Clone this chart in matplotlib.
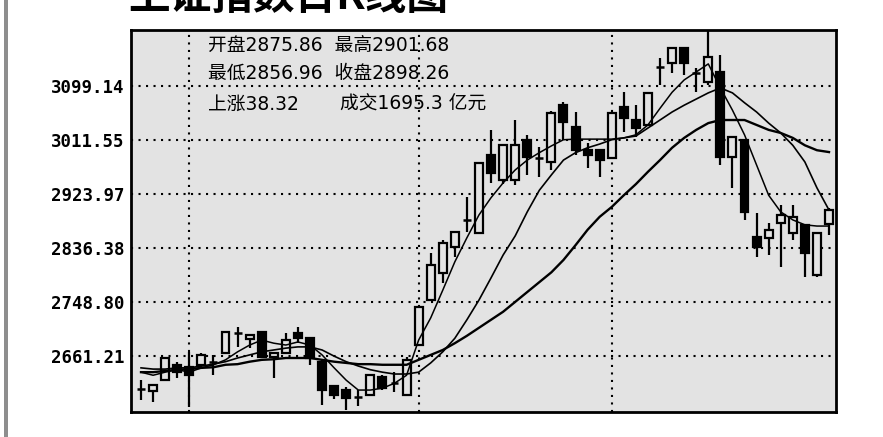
import matplotlib
matplotlib.use('Agg')
import matplotlib.pyplot as plt
from matplotlib.patches import Rectangle

plt.rcParams['font.family'] = ['Noto Sans CJK SC', 'DejaVu Sans']

# daily candles: open, high, low, close
opens = [2608, 2605, 2622, 2646, 2643, 2647, 2650, 2666, 2698, 2688,
         2700, 2660, 2666, 2698, 2690, 2651, 2612, 2606, 2595, 2598,
         2627, 2616, 2598, 2679, 2752, 2796, 2838, 2881, 2861, 2987,
         2947, 2947, 3011, 2983, 2976, 3068, 3033, 2995, 2995, 2982,
         3065, 3044, 3036, 3129, 3137, 3161, 3119, 3106, 3122, 2984,
         3011, 2854, 2853, 2877, 2861, 2874, 2792, 2875.86]
highs = [2622, 2614, 2660, 2651, 2667, 2666, 2663, 2702, 2708, 2697,
         2702, 2668, 2698, 2708, 2692, 2655, 2615, 2611, 2606, 2632,
         2630, 2635, 2660, 2743, 2828, 2849, 2863, 2919, 2976, 3028,
         3005, 3044, 3020, 3000, 3058, 3073, 3057, 3007, 2997, 3057,
         3089, 3068, 3090, 3145, 3162, 3162, 3128, 3195, 3149, 3018,
         3013, 2893, 2877, 2906, 2906, 2876, 2863, 2901.68]
lows = [2590, 2587, 2620, 2626, 2578, 2640, 2630, 2664, 2676, 2674,
        2658, 2625, 2664, 2682, 2647, 2582, 2592, 2574, 2580, 2596,
        2606, 2603, 2596, 2677, 2750, 2780, 2822, 2862, 2859, 2942,
        2940, 2938, 2955, 2952, 2963, 3011, 2987, 2966, 2952, 2980,
        3025, 3016, 3034, 3101, 3120, 3117, 3089, 3100, 2971, 2933,
        2882, 2822, 2825, 2805, 2849, 2789, 2790, 2856.96]
closes = [2609, 2614, 2658, 2635, 2630, 2663, 2652, 2700, 2700, 2695,
          2660, 2666, 2687, 2690, 2658, 2606, 2598, 2593, 2596, 2630,
          2609, 2618, 2655, 2741, 2809, 2844, 2862, 2883, 2974, 2958,
          3003, 3003, 2984, 2981, 3055, 3041, 2995, 2988, 2979, 3055,
          3047, 3031, 3088, 3131, 3161, 3137, 3121, 3146, 2984, 3016,
          2895, 2838, 2866, 2890, 2887, 2828, 2861, 2898.26]

ma5 = [2635, 2630, 2635, 2639, 2635, 2642, 2647, 2655, 2668, 2679,
       2687, 2682, 2679, 2684, 2679, 2663, 2642, 2622, 2606, 2606,
       2609, 2617, 2630, 2687, 2723, 2768, 2814, 2853, 2890, 2918,
       2942, 2963, 2979, 2991, 3002, 3012, 3013, 3013, 3013, 3013,
       3015, 3020, 3036, 3063, 3089, 3109, 3122, 3135, 3096, 3060,
       3020, 2971, 2922, 2895, 2882, 2874, 2872, 2872]
ma10 = [2642, 2640, 2640, 2642, 2642, 2645, 2648, 2652, 2658, 2663,
        2668, 2671, 2674, 2676, 2676, 2671, 2661, 2652, 2645, 2639,
        2635, 2632, 2632, 2635, 2650, 2668, 2690, 2720, 2752, 2788,
        2825, 2856, 2895, 2930, 2955, 2979, 2991, 2999, 3005, 3012,
        3015, 3018, 3031, 3044, 3057, 3068, 3078, 3088, 3096, 3088,
        3072, 3057, 3039, 3023, 3003, 2976, 2934, 2898]
ma30 = [2635, 2635, 2637, 2639, 2640, 2642, 2643, 2647, 2648, 2652,
        2655, 2656, 2658, 2658, 2658, 2655, 2652, 2650, 2648, 2648,
        2647, 2647, 2647, 2655, 2663, 2671, 2682, 2694, 2707, 2720,
        2733, 2749, 2765, 2781, 2797, 2817, 2841, 2866, 2887, 2903,
        2922, 2940, 2960, 2979, 2999, 3015, 3028, 3039, 3044, 3044,
        3044, 3036, 3028, 3023, 3015, 3003, 2995, 2992]

price_ticks = [2661.21, 2748.80, 2836.38, 2923.97, 3011.55, 3099.14]
month_marks = [4, 23, 39]

info_lines = ['开盘2875.86  最高2901.68',
              '最低2856.96  收盘2898.26']
info_rise = '上涨38.32'
info_vol = '成交1695.3 亿元'
title = '上证指数日K线图'

bg = '#e3e3e3'
W, H = 883, 437
fig = plt.figure(figsize=(W / 100, H / 100), dpi=100)
ax = fig.add_axes([131 / W, 1 - 412 / H, 705 / W, 382 / H])
ax.set_facecolor(bg)

n = len(closes)
w = 0.66
for i in range(n):
    o, h, l, c = opens[i], highs[i], lows[i], closes[i]
    ax.vlines(i, l, h, color='black', lw=1.6, zorder=2)
    if abs(c - o) < 2.5:
        ax.hlines((o + c) / 2, i - w / 2, i + w / 2, color='black', lw=1.8, zorder=3)
    else:
        up = c > o
        ax.add_patch(Rectangle((i - w / 2, min(o, c)), w, abs(c - o),
                               facecolor=bg if up else 'black',
                               edgecolor='black', lw=1.6, zorder=3))

x = list(range(n))
ax.plot(x, ma5, color='black', lw=1.1, zorder=4)
ax.plot(x, ma10, color='black', lw=1.2, zorder=4)
ax.plot(x, ma30, color='black', lw=1.7, zorder=4)

ax.set_xlim(-0.83, 57.58)
ax.set_ylim(2570.4, 3190.0)
ax.set_yticks(price_ticks)
ax.set_yticklabels(['%.2f' % v for v in price_ticks],
                   fontfamily='DejaVu Sans Mono', fontweight='bold', fontsize=12.5)
ax.set_xticks(month_marks)
ax.set_xticklabels([])
ax.tick_params(length=0, pad=5)
ax.grid(True, color='black', linestyle=(0, (1, 2.6)), lw=1.5, zorder=1)
for s in ax.spines.values():
    s.set_linewidth(2)

# info text in the top-left corner
info_font = dict(fontsize=13.5, va='center', family=['DejaVu Sans', 'Noto Sans CJK SC'])
fig.text(208 / W, 1 - 45 / H, info_lines[0], **info_font)
fig.text(208 / W, 1 - 73 / H, info_lines[1], **info_font)
fig.text(208 / W, 1 - 104 / H, info_rise, **info_font)
fig.text(340 / W, 1 - 104 / H, info_vol, **info_font)

# title cut off at the page top
fig.text(128 / W, 1 - 18 / H, title, fontsize=30, fontweight='bold', va='bottom')

# grey page rule on the left
fig.patches.append(Rectangle((4 / W, 0), 4 / W, 1, transform=fig.transFigure,
                             facecolor='#8e8e8e', edgecolor='none'))

fig.savefig('out.png', dpi=100, facecolor='white')
